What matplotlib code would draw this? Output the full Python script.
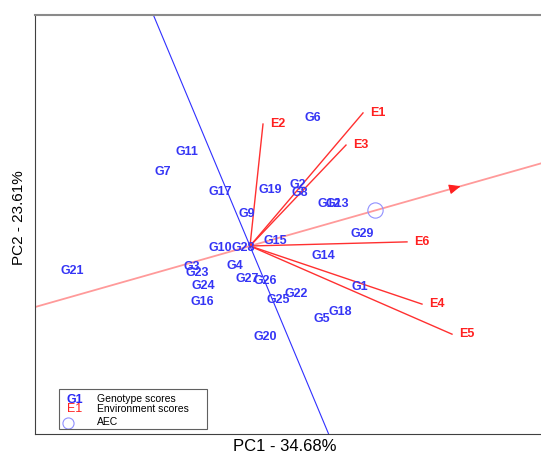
import numpy as np
import matplotlib
matplotlib.use("Agg")
import matplotlib.pyplot as plt
from matplotlib.patches import Rectangle

plt.rcParams['font.family'] = ['Liberation Sans', 'DejaVu Sans']

# GGE biplot scores (PC1, PC2)
genotypes = ['G1', 'G2', 'G3', 'G4', 'G5', 'G6', 'G7', 'G8', 'G9', 'G10',
             'G11', 'G12', 'G13', 'G14', 'G15', 'G16', 'G17', 'G18', 'G19', 'G20',
             'G21', 'G22', 'G23', 'G24', 'G25', 'G26', 'G27', 'G28', 'G29']
g_pc1 = [2.20, 0.96, -1.16, -0.30, 1.44, 1.26, -1.74, 1.00, -0.06, -0.60,
         -1.26, 1.58, 1.74, 1.46, 0.50, -0.96, -0.60, 1.80, 0.40, 0.30,
         -3.56, 0.92, -1.06, -0.94, 0.56, 0.30, -0.06, -0.14, 2.24]
g_pc2 = [-1.00, 1.48, -0.51, -0.49, -1.77, 3.11, 1.80, 1.29, 0.78, -0.05,
         2.28, 1.02, 1.02, -0.24, 0.12, -1.36, 1.31, -1.60, 1.36, -2.21,
         -0.61, -1.17, -0.66, -0.97, -1.31, -0.85, -0.80, -0.05, 0.29]

environments = ['E1', 'E2', 'E3', 'E4', 'E5', 'E6']
e_pc1 = [2.26, 0.26, 1.92, 3.44, 4.04, 3.14]
e_pc2 = [3.23, 2.96, 2.45, -1.41, -2.14, 0.10]

pc1_label = 'PC1 - 34.68%'
pc2_label = 'PC2 - 23.61%'

fig = plt.figure(figsize=(5.41, 4.54), dpi=100)
ax = fig.add_axes([35 / 541, 20 / 454, 506 / 541, 419 / 454])
ax.set_xlim(-4.3, 5.82)
ax.set_ylim(-4.563, 5.607)

# average environment coordinate and its axis
aec = np.array([np.mean(e_pc1), np.mean(e_pc2)])
perp = np.array([-aec[1], aec[0]])
ax.plot([-20 * aec[0], 20 * aec[0]], [-20 * aec[1], 20 * aec[1]],
        color='#ff9a9a', lw=1.3, zorder=1)
ax.plot([-20 * perp[0], 20 * perp[0]], [-20 * perp[1], 20 * perp[1]],
        color='#3030ff', lw=0.8, zorder=1)
tip = 1.7 * aec
ax.annotate('', xy=tip, xytext=tip - 0.12 * aec,
            arrowprops=dict(arrowstyle='-|>,head_length=0.7,head_width=0.3',
                            color='#ff2020', lw=0.8))
ax.plot(aec[0], aec[1], 'o', ms=11, mfc='none', mec='#9090ff', mew=0.8)

# environment vectors
for name, x, y in zip(environments, e_pc1, e_pc2):
    ax.plot([0, x], [0, y], color='#ff3030', lw=1.0, zorder=2)
    ax.annotate(name, (x, y), xytext=(5, 0), textcoords='offset points',
                ha='left', va='center', color='#ff2020', fontsize=9, fontweight='bold')

# genotype scores
for name, x, y in zip(genotypes, g_pc1, g_pc2):
    ax.text(x, y, name, ha='center', va='center', color='#3535f5', fontsize=9,
            fontweight='bold', zorder=3)

ax.set_xticks([])
ax.set_yticks([])
ax.spines['right'].set_visible(False)
ax.spines['top'].set_color('#8a8a8a')
ax.spines['top'].set_linewidth(1.5)
ax.spines['left'].set_color('#404040')
ax.spines['bottom'].set_color('#404040')

ax.set_xlabel(pc1_label, fontsize=12)
ax.xaxis.set_label_coords(0.493, -0.012, transform=ax.transAxes)
ax.xaxis.label.set_va('top')
ax.set_ylabel(pc2_label, fontsize=11, family=['Liberation Sans Narrow', 'Liberation Sans'])
ax.yaxis.set_label_coords(-0.018, 0.517)

# legend box
ax.add_patch(Rectangle((0.047, 0.012), 0.293, 0.095, transform=ax.transAxes,
                       fill=False, ec='#606060', lw=0.8, zorder=4))
ax.text(0.079, 0.081, 'G1', transform=ax.transAxes, ha='center', va='center',
        color='#2a2af5', fontsize=9, fontweight='bold')
ax.text(0.079, 0.0585, 'E1', transform=ax.transAxes, ha='center', va='center',
        color='#ff2020', fontsize=9)
ax.plot([0.066], [0.027], 'o', transform=ax.transAxes, ms=8, mfc='none',
        mec='#9090ff', mew=0.8)
ax.text(0.1225, 0.083, 'Genotype scores', transform=ax.transAxes, va='center', fontsize=7.5)
ax.text(0.1225, 0.0585, 'Environment scores', transform=ax.transAxes, va='center', fontsize=7.5)
ax.text(0.1225, 0.028, 'AEC', transform=ax.transAxes, va='center', fontsize=7.5)

fig.savefig('out.png', dpi=100)
